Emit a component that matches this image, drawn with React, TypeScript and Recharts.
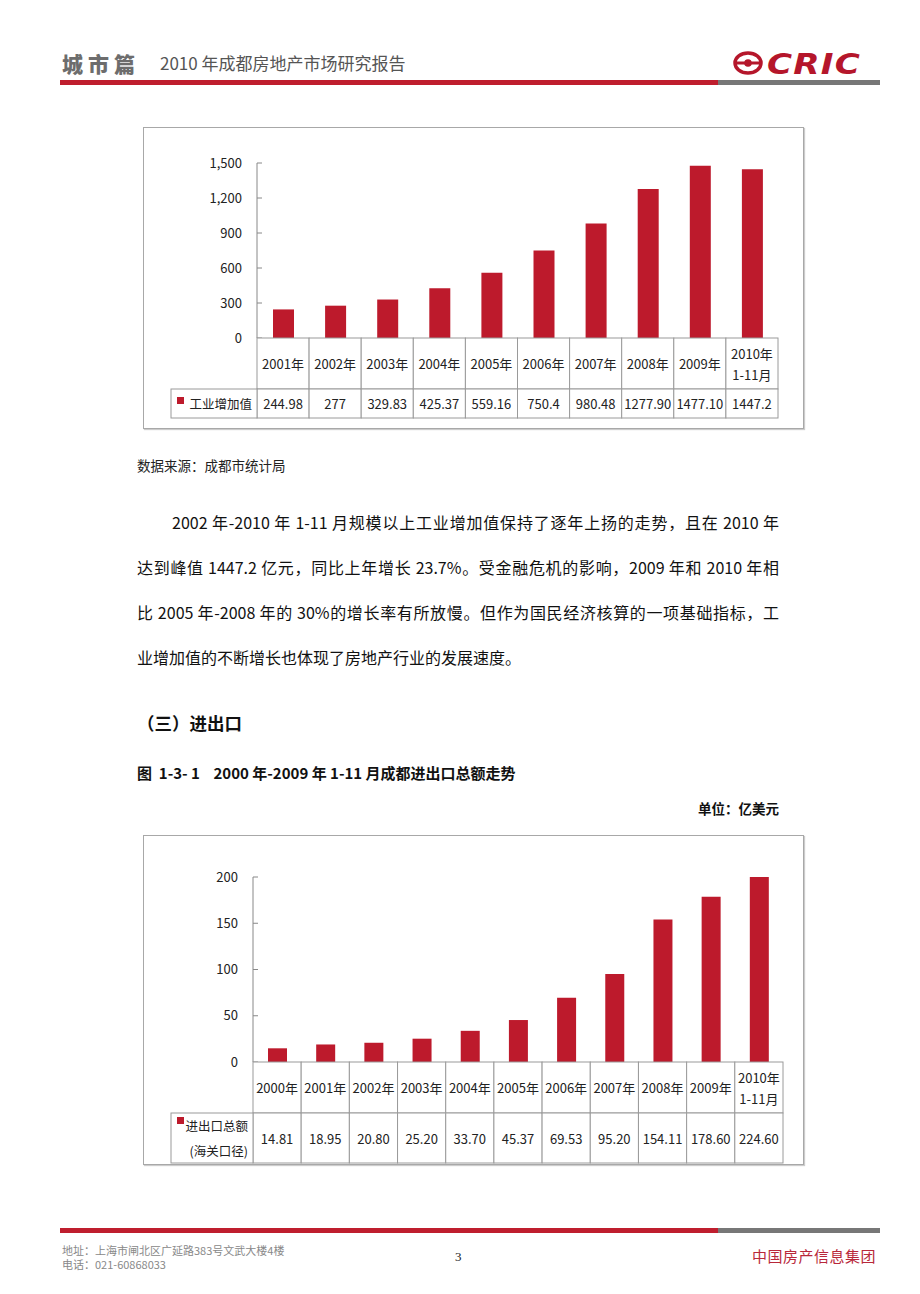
import React from "react";
import { BarChart, Bar, XAxis, YAxis } from "recharts";

const FONT = '"Noto Sans CJK SC", "Noto Sans", sans-serif';
const RED = "#bd1a2c";
const GRID = "#9a9a9a";

// chart 1: 工业增加值
const industryYears = ["2001年", "2002年", "2003年", "2004年", "2005年", "2006年", "2007年", "2008年", "2009年", "2010年\n1-11月"];
const industryLabels = ["244.98", "277", "329.83", "425.37", "559.16", "750.4", "980.48", "1277.90", "1477.10", "1447.2"];
const industryTicks = [0, 300, 600, 900, 1200, 1500];

// chart 2: 进出口总额
const tradeYears = ["2000年", "2001年", "2002年", "2003年", "2004年", "2005年", "2006年", "2007年", "2008年", "2009年", "2010年\n1-11月"];
const tradeLabels = ["14.81", "18.95", "20.80", "25.20", "33.70", "45.37", "69.53", "95.20", "154.11", "178.60", "224.60"];
const tradeTicks = [0, 50, 100, 150, 200];

const industryData = industryYears.map((y, i) => ({ year: y, value: Number(industryLabels[i]) }));
const tradeData = tradeYears.map((y, i) => ({ year: y, value: Number(tradeLabels[i]) }));

const paragraph = [
  "2002 年-2010 年 1-11 月规模以上工业增加值保持了逐年上扬的走势，且在 2010 年",
  "达到峰值 1447.2 亿元，同比上年增长 23.7%。受金融危机的影响，2009 年和 2010 年相",
  "比 2005 年-2008 年的 30%的增长率有所放慢。但作为国民经济核算的一项基础指标，工",
  "业增加值的不断增长也体现了房地产行业的发展速度。",
];

function makeTableTick(opts: {
  bw: number;
  catH: number;
  valH: number;
  legendW: number;
  legend: string[];
  legendSquareY: number;
}) {
  return (props: any) => {
    const { x, y, payload, index } = props;
    const { bw, catH, valH, legendW, legend, legendSquareY } = opts;
    const left = x - bw / 2;
    const lines = String(payload.value).split("\n");
    const label = props.labels[index];
    return (
      <g>
        <rect x={left} y={y} width={bw} height={catH} fill="#fff" stroke={GRID} strokeWidth={1} />
        <rect x={left} y={y + catH} width={bw} height={valH} fill="#fff" stroke={GRID} strokeWidth={1} />
        {lines.map((l, k) => (
          <text
            key={k}
            x={x}
            y={y + catH / 2 + (k - (lines.length - 1) / 2) * 21}
            textAnchor="middle"
            dominantBaseline="central"
            fontSize={13}
            fill="#222"
            fontFamily={FONT}
          >
            {l}
          </text>
        ))}
        <text
          x={x}
          y={y + catH + valH / 2}
          textAnchor="middle"
          dominantBaseline="central"
          fontSize={13}
          fill="#222"
          fontFamily={FONT}
        >
          {label}
        </text>
        {index === 0 && (
          <g>
            <rect x={left - legendW} y={y + catH} width={legendW} height={valH} fill="#fff" stroke={GRID} strokeWidth={1} />
            <rect x={left - legendW + 6} y={y + catH + legendSquareY} width={7} height={7} fill={RED} />
            {legend.map((t, k) => (
              <text
                key={k}
                x={left - 5}
                y={y + catH + valH / 2 + (k - (legend.length - 1) / 2) * 25}
                textAnchor="end"
                dominantBaseline="central"
                fontSize={12.5}
                fill="#222"
                fontFamily={FONT}
              >
                {t}
              </text>
            ))}
          </g>
        )}
      </g>
    );
  };
}

function TableChart(props: {
  data: any[];
  labels: string[];
  ticks: number[];
  width: number;
  height: number;
  top: number;
  bottom: number;
  yWidth: number;
  right: number;
  catH: number;
  valH: number;
  barSize: number;
  legend: string[];
  legendSquareY: number;
  formatTick: (v: number) => string;
}) {
  const n = props.data.length;
  const bw = (props.width - props.yWidth - props.right) / n;
  const Tick = makeTableTick({
    bw,
    catH: props.catH,
    valH: props.valH,
    legendW: props.yWidth - 28,
    legend: props.legend,
    legendSquareY: props.legendSquareY,
  });
  return (
    <BarChart
      width={props.width}
      height={props.height}
      data={props.data}
      margin={{ top: props.top, right: props.right, bottom: props.bottom, left: 0 }}
    >
      <XAxis
        dataKey="year"
        interval={0}
        tickLine={false}
        axisLine={false}
        tickSize={0}
        tickMargin={0}
        height={props.catH + props.valH}
        tick={(p: any) => <Tick {...p} labels={props.labels} />}
      />
      <YAxis
        width={props.yWidth}
        domain={[props.ticks[0], props.ticks[props.ticks.length - 1]]}
        ticks={props.ticks}
        allowDataOverflow
        tickSize={-5}
        tickMargin={20}
        stroke="#888"
        tick={{ fontSize: 13, fill: "#222", fontFamily: FONT }}
        tickFormatter={props.formatTick}
      />
      <Bar dataKey="value" fill={RED} barSize={props.barSize} isAnimationActive={false} />
    </BarChart>
  );
}

function CricLogo() {
  return (
    <svg width={135} height={32} style={{ position: "absolute", left: 733, top: 46, overflow: "visible" }}>
      <ellipse cx={15} cy={17} rx={13} ry={10} fill="none" stroke="#b5162b" strokeWidth={3.5} />
      <circle cx={15} cy={17} r={3.8} fill="#b5162b" />
      <rect x={2} y={15.5} width={26} height={3} fill="#b5162b" />
      <text x={34} y={28} fontSize={29} fontWeight={900} fontStyle="italic" fill="#b5162b" fontFamily='"DejaVu Sans", sans-serif' letterSpacing={1} textLength={94} lengthAdjust="spacingAndGlyphs">
        CRIC
      </text>
    </svg>
  );
}

export default function App() {
  const abs = (l: number, t: number): React.CSSProperties => ({ position: "absolute", left: l, top: t });
  return (
    <div style={{ position: "absolute", left: 0, top: 0, width: 920, height: 1294, background: "#fff", fontFamily: FONT, overflow: "hidden" }}>
      {/* header */}
      <div style={{ ...abs(62, 48), fontSize: 21, fontWeight: 900, color: "#6d6d6d", letterSpacing: 5 }}>城市篇</div>
      <div style={{ ...abs(160, 50), fontSize: 17, color: "#555" }}>2010 年成都房地产市场研究报告</div>
      <CricLogo />
      <div style={{ ...abs(60, 80), width: 658, height: 5, background: "#bf1e2e" }} />
      <div style={{ ...abs(718, 80), width: 162, height: 5, background: "#777" }} />

      {/* chart 1 */}
      <div style={{ ...abs(143, 127), width: 661, height: 302, border: "1px solid #a8a8a8", boxSizing: "border-box", boxShadow: "1px 1px 1px #ccc" }} />
      <div style={abs(143, 127)}>
        <TableChart
          data={industryData}
          labels={industryLabels}
          ticks={industryTicks}
          width={661}
          height={302}
          top={36}
          bottom={11}
          yWidth={114}
          right={26}
          catH={51}
          valH={29}
          barSize={21}
          legend={["工业增加值"]}
          legendSquareY={8}
          formatTick={(v) => v.toLocaleString("en-US")}
        />
      </div>

      <div style={{ ...abs(137, 455), fontSize: 13.5, color: "#222" }}>数据来源：成都市统计局</div>

      {paragraph.map((line, i) => (
        <div
          key={i}
          style={{
            ...abs(i === 0 ? 172 : 137, 510 + i * 45),
            width: i === 0 ? 607 : 642,
            fontSize: 16,
            color: "#111",
            textAlign: i === paragraph.length - 1 ? "left" : "justify",
            textAlignLast: i === paragraph.length - 1 ? "left" : "justify",
            whiteSpace: "nowrap",
          }}
        >
          {line}
        </div>
      ))}

      <div style={{ ...abs(137, 710), fontSize: 17.5, fontWeight: 700, color: "#111" }}>（三）进出口</div>
      <div style={{ ...abs(137, 762), fontSize: 15, fontWeight: 700, color: "#111", whiteSpace: "pre" }}>
        图  1-3- 1    2000 年-2009 年 1-11 月成都进出口总额走势
      </div>
      <div style={{ ...abs(679, 798), width: 100, textAlign: "right", fontSize: 13.5, fontWeight: 700, color: "#111" }}>单位：亿美元</div>

      {/* chart 2 */}
      <div style={{ ...abs(143, 835), width: 661, height: 330, border: "1px solid #a8a8a8", boxSizing: "border-box", boxShadow: "1px 1px 1px #ccc" }} />
      <div style={abs(143, 835)}>
        <TableChart
          data={tradeData}
          labels={tradeLabels}
          ticks={tradeTicks}
          width={661}
          height={330}
          top={42}
          bottom={2}
          yWidth={110}
          right={21}
          catH={51}
          valH={50}
          barSize={19}
          legend={["进出口总额", "(海关口径)"]}
          legendSquareY={4}
          formatTick={(v) => String(v)}
        />
      </div>

      {/* footer */}
      <div style={{ ...abs(60, 1228), width: 658, height: 5, background: "#bf1e2e" }} />
      <div style={{ ...abs(718, 1228), width: 162, height: 5, background: "#777" }} />
      <div style={{ ...abs(62, 1243), fontSize: 11, color: "#888", lineHeight: "14px" }}>
        地址：上海市闸北区广延路383号文武大楼4楼
        <br />
        电话：021-60868033
      </div>
      <div style={{ ...abs(455, 1249), fontSize: 13, fontFamily: '"Liberation Serif", serif', color: "#222" }}>3</div>
      <div style={{ ...abs(752, 1245), fontSize: 15, color: "#b8283a", letterSpacing: 0.5 }}>中国房产信息集团</div>
    </div>
  );
}
